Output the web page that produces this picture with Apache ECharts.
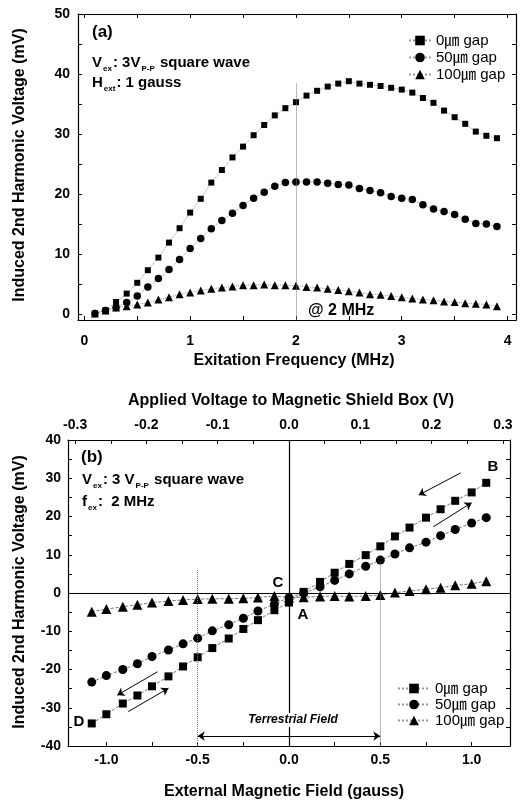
<!DOCTYPE html>
<html><head><meta charset="utf-8">
<script src="https://cdn.jsdelivr.net/npm/echarts@6/dist/echarts.min.js"></script>
<style>html,body{margin:0;padding:0;background:#fff}#c{width:529px;height:803px}</style>
</head><body><div id="c"></div>
<script>
const FONT = "'Liberation Sans', Arial, 'Noto Sans CJK KR', sans-serif";
const seriesNames = ['0㎛ gap', '50㎛ gap', '100㎛ gap'];

// ---- Panel (a): frequency sweep ----
const freqMHz = [0.1,0.2,0.3,0.4,0.5,0.6,0.7,0.8,0.9,1.0,1.1,1.2,1.3,1.4,1.5,1.6,1.7,1.8,1.9,2.0,
                 2.1,2.2,2.3,2.4,2.5,2.6,2.7,2.8,2.9,3.0,3.1,3.2,3.3,3.4,3.5,3.6,3.7,3.8,3.9];
const aGap0 = [0.1,0.6,2.0,3.4,5.2,7.3,9.4,11.9,14.3,16.9,19.2,21.9,24.0,26.1,27.9,29.8,31.5,33.1,34.3,35.3,
               36.4,37.2,37.9,38.4,38.8,38.4,38.2,38.0,37.7,37.4,36.9,36.0,35.2,33.9,32.8,31.7,30.4,29.7,29.3];
const aGap50 = [0.1,0.6,1.1,1.9,3.0,4.5,5.9,7.4,9.1,10.9,12.6,14.2,15.6,16.8,18.1,19.3,20.3,21.3,21.9,22.0,
                22.0,22.0,21.8,21.6,21.5,20.9,20.6,20.2,19.6,19.3,19.1,18.2,17.5,17.1,16.6,15.8,15.1,15.0,14.6];
const aGap100 = [0.1,0.6,1.1,1.3,1.6,1.9,2.4,2.8,3.3,3.6,3.9,4.2,4.4,4.6,4.8,4.8,4.9,4.8,4.8,4.7,
                 4.5,4.4,4.2,4.0,3.8,3.6,3.3,3.2,3.0,2.8,2.6,2.4,2.3,2.1,2.0,1.8,1.7,1.6,1.3];
const aXTicks = [0,0.5,1,1.5,2,2.5,3,3.5,4];
const aXLabels = [0,1,2,3,4];
const aYTicks = [0,5,10,15,20,25,30,35,40,45,50];
const aYLabels = [0,10,20,30,40,50];

// ---- Panel (b): field sweep ----
const fieldGauss = [-1.08,-1.00,-0.91,-0.83,-0.75,-0.66,-0.58,-0.50,-0.42,-0.33,-0.25,-0.17,-0.08,0.00,
                    0.08,0.17,0.25,0.33,0.42,0.50,0.58,0.66,0.75,0.83,0.91,1.00,1.08];
const bGap0 = [-34.1,-31.7,-28.9,-26.8,-24.4,-21.8,-19.2,-16.8,-14.4,-11.9,-9.4,-7.1,-4.5,-2.5,
               0.3,2.9,5.3,7.6,9.9,12.2,14.8,17.1,19.7,21.9,24.1,26.3,28.8];
const bGap50 = [-23.3,-21.6,-20.0,-18.5,-16.6,-14.9,-13.3,-11.8,-9.9,-8.3,-6.6,-4.7,-2.9,-1.2,
                0.0,1.6,3.3,5.0,7.0,8.6,10.2,11.8,13.3,15.0,16.6,18.3,19.7];
const bGap100 = [-4.9,-4.2,-3.6,-3.1,-2.5,-2.1,-1.8,-1.6,-1.5,-1.5,-1.4,-1.2,-0.8,-1.2,
                 -1.1,-0.9,-0.8,-0.9,-0.8,-0.5,0.1,0.5,1.0,1.4,2.0,2.4,3.1];
const bXTicks = [-1,-0.75,-0.5,-0.25,0,0.25,0.5,0.75,1];
const bXLabels = [-1,-0.5,0,0.5,1];
const bTopTicks = [-0.3,-0.25,-0.2,-0.15,-0.1,-0.05,0,0.05,0.1,0.15,0.2,0.25,0.3];
const bTopLabels = [-0.3,-0.2,-0.1,0,0.1,0.2,0.3];
const bYTicks = [-40,-35,-30,-25,-20,-15,-10,-5,0,5,10,15,20,25,30,35,40];
const bYLabels = [-40,-30,-20,-10,0,10,20,30,40];

const zip = (xs, ys) => xs.map((x, i) => [x, ys[i]]);

function axis(o) {
  return {
    type: 'value', gridIndex: o.grid, position: o.pos, min: o.min, max: o.max,
    axisLine: { show: true, onZero: false, lineStyle: { color: '#000', width: 1.2 } },
    axisTick: { show: true, inside: true, length: 4, customValues: o.ticks, lineStyle: { color: '#000', width: 1 } },
    axisLabel: { show: !!o.labels, customValues: o.labels || o.ticks, margin: o.margin || 8,
      formatter: o.fmt || (v => String(v)),
      color: '#000', fontFamily: FONT, fontWeight: 'bold', fontSize: 14 },
    splitLine: { show: false }, minorTick: { show: false }
  };
}
const fmt1 = v => Number(v).toFixed(1);

const symbols = ['rect', 'circle', 'triangle'];
const aSizes = [6, 7.5, 8];
const bSizes = [8, 9, 10];
const aData = [aGap0, aGap50, aGap100];
const bData = [bGap0, bGap50, bGap100];

const series = [];
for (let i = 0; i < 3; i++) {
  series.push({
    type: 'line', name: seriesNames[i], xAxisIndex: 0, yAxisIndex: 0,
    data: zip(freqMHz, aData[i]), symbol: symbols[i], symbolSize: aSizes[i],
    itemStyle: { color: '#000' }, lineStyle: { type: 'dotted', width: 1, color: '#999' },
    z: 3
  });
}
for (let i = 0; i < 3; i++) {
  series.push({
    type: 'line', name: seriesNames[i], xAxisIndex: 2, yAxisIndex: 2,
    data: zip(fieldGauss, bData[i]), symbol: symbols[i], symbolSize: bSizes[i],
    itemStyle: { color: '#000' }, lineStyle: { type: 'dashed', width: 0.8, color: '#555' },
    z: 3
  });
}
// reference lines panel (a)
series[0].markLine = {
  silent: true, symbol: ['none', 'none'], label: { show: false }, animation: false,
  lineStyle: { type: 'dotted', color: '#777', width: 1 },
  data: [[{ coord: [2, 38.4] }, { coord: [2, -1] }]]
};
// reference lines panel (b)
const solid = { type: 'solid', color: '#000', width: 1.2 };
const dot = { type: 'dotted', color: '#777', width: 1 };
const arr = { type: 'solid', color: '#000', width: 1 };
series[5].markLine = {
  silent: true, symbol: ['none', 'none'], symbolSize: 7, label: { show: false }, animation: false,
  data: [
    { xAxis: 0, lineStyle: solid },
    { yAxis: 0, lineStyle: solid },
    [{ coord: [-0.5, 6], lineStyle: dot }, { coord: [-0.5, -40] }],
    [{ coord: [0.5, 8], lineStyle: dot }, { coord: [0.5, -40] }],
    [{ coord: [-0.5, -37.4], symbol: 'arrow', lineStyle: arr }, { coord: [0.5, -37.4], symbol: 'arrow' }],
    [{ coord: [0.94, 31.4], lineStyle: arr }, { coord: [0.71, 25.6], symbol: 'arrow' }],
    [{ coord: [0.79, 17.3], lineStyle: arr }, { coord: [1.0, 23.6], symbol: 'arrow' }],
    [{ coord: [-0.72, -20.6], lineStyle: arr }, { coord: [-0.94, -26.7], symbol: 'arrow' }],
    [{ coord: [-0.88, -31.0], lineStyle: arr }, { coord: [-0.66, -24.9], symbol: 'arrow' }]
  ]
};

function txt(x, y, text, o) {
  o = o || {};
  return {
    type: 'text', x: x, y: y, rotation: o.rot || 0, z: 100,
    style: {
      text: text, fill: '#000', align: o.align || 'left', verticalAlign: 'middle',
      font: (o.italic ? 'italic ' : '') + (o.weight || 'bold') + ' ' + (o.size || 14) + 'px ' + FONT,
      rich: o.rich, backgroundColor: o.bg, padding: o.bg ? [1, 2] : 0
    }
  };
}
const rich = {
  m: { fontFamily: FONT, fontWeight: 'bold', fontSize: 15, lineHeight: 20, verticalAlign: 'middle' },
  s: { fontFamily: FONT, fontWeight: 'bold', fontSize: 8, lineHeight: 20, verticalAlign: 'bottom', padding: [0, 1, 0, 1] }
};

const option = {
  backgroundColor: '#fff',
  animation: false,
  grid: [
    { left: 78, top: 14, width: 438, height: 306 },
    { left: 68, top: 440, width: 442, height: 306 }
  ],
  xAxis: [
    axis({ grid: 0, pos: 'bottom', min: -0.06, max: 4.08, ticks: aXTicks, labels: aXLabels, margin: 14 }),
    axis({ grid: 0, pos: 'top', min: -0.06, max: 4.08, ticks: aXTicks }),
    axis({ grid: 1, pos: 'bottom', min: -1.21, max: 1.21, ticks: bXTicks, labels: bXLabels, margin: 7, fmt: fmt1 }),
    axis({ grid: 1, pos: 'top', min: -0.31, max: 0.31, ticks: bTopTicks, labels: bTopLabels, margin: 8, fmt: fmt1 })
  ],
  yAxis: [
    axis({ grid: 0, pos: 'left', min: -1, max: 50, ticks: aYTicks, labels: aYLabels, margin: 8 }),
    axis({ grid: 0, pos: 'right', min: -1, max: 50, ticks: aYTicks }),
    axis({ grid: 1, pos: 'left', min: -40, max: 40, ticks: bYTicks, labels: bYLabels, margin: 7 }),
    axis({ grid: 1, pos: 'right', min: -40, max: 40, ticks: bYTicks })
  ],
  legend: [
    { data: seriesNames, orient: 'vertical', left: 403, top: 28, itemWidth: 22, itemHeight: 12, itemGap: 2,
      textStyle: { fontFamily: FONT, fontSize: 15, color: '#000' }, selectedMode: false },
    { data: seriesNames, orient: 'vertical', left: 392, top: 676, itemWidth: 32, itemHeight: 12, itemGap: 1,
      textStyle: { fontFamily: FONT, fontSize: 15, color: '#000' }, selectedMode: false }
  ],
  series: series,
  graphic: [
    txt(92, 32, '(a)', { size: 17 }),
    txt(92, 63, '{m|V}{s|ex}{m|: 3V}{s|P-P}{m| square wave}', { rich: rich }),
    txt(92, 83, '{m|H}{s|ext}{m|: 1 gauss}', { rich: rich }),
    txt(308, 311, '@ 2 MHz', { size: 16 }),
    txt(81, 457, '(b)', { size: 17 }),
    txt(82, 480, '{m|V}{s|ex}{m|: 3 V}{s|P-P}{m| square wave}', { rich: rich }),
    txt(82, 502, '{m|f}{s|ex}{m|:  2 MHz}', { rich: rich }),
    txt(493, 467, 'B', { align: 'center', size: 15 }),
    txt(278, 583, 'C', { align: 'center', size: 15 }),
    txt(303, 615, 'A', { align: 'center', size: 15 }),
    txt(79, 722, 'D', { align: 'center', size: 15 }),
    txt(293, 720, 'Terrestrial Field', { align: 'center', size: 12, italic: true, bg: '#fff' }),
    txt(20, 165, 'Induced 2nd Harmonic Voltage (mV)', { align: 'center', size: 16, rot: Math.PI / 2 }),
    txt(20, 592, 'Induced 2nd Harmonic Voltage (mV)', { align: 'center', size: 16, rot: Math.PI / 2 }),
    txt(294, 361, 'Exitation Frequency (MHz)', { align: 'center', size: 16 }),
    txt(291, 401, 'Applied Voltage to Magnetic Shield Box (V)', { align: 'center', size: 16 }),
    txt(284, 792, 'External Magnetic Field (gauss)', { align: 'center', size: 16 })
  ]
};
const chart = echarts.init(document.getElementById('c'), null, { renderer: 'canvas' });
chart.setOption(option);
</script>
</body></html>
